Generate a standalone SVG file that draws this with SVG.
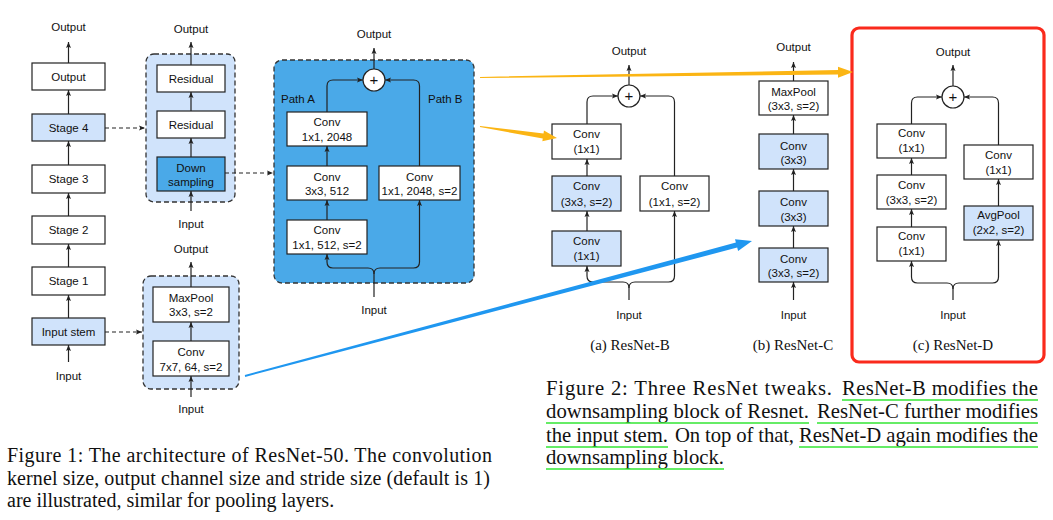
<svg xmlns="http://www.w3.org/2000/svg" width="1053" height="520" viewBox="0 0 1053 520">
<defs>
<marker id="ah" markerWidth="7" markerHeight="6" refX="6" refY="3" orient="auto" markerUnits="userSpaceOnUse"><path d="M0,0.5 L6,3 L0,5.5 L1.2,3 z" fill="#222"/></marker>
<style>
.box{stroke:#222;stroke-width:1.2;fill:#fff}
.lb{fill:#d0e3fb}
.db{fill:#4aa9e8}
.cont{stroke:#333;stroke-width:1.3;stroke-dasharray:5 3}
.t{font-family:"Liberation Sans",Arial,sans-serif;font-size:11.5px;text-anchor:middle;fill:#111}
.ts{font-family:"Liberation Sans",Arial,sans-serif;font-size:11.5px;fill:#111}
.ln{stroke:#222;stroke-width:1.2;fill:none;marker-end:url(#ah)}
.dash{stroke-dasharray:4 3}
.cap{font-family:"Liberation Serif","Times New Roman",serif;font-size:20px;fill:#111}
.cap2{font-family:"Liberation Serif","Times New Roman",serif;font-size:20.7px;fill:#111}
.sub{font-family:"Liberation Serif","Times New Roman",serif;font-size:15px;fill:#111;text-anchor:middle}
.ul{stroke:#33e633;stroke-width:1.6}
.plus{font-family:"Liberation Sans",Arial,sans-serif;font-size:15px;text-anchor:middle;fill:#111}
</style>
</defs>
<rect width="1053" height="520" fill="#fff"/>

<!-- Figure 1 main column -->
<g id="f1-labels">
<text class="t" x="68.5" y="31">Output</text>
<text class="t" x="68.5" y="380">Input</text>
</g>
<g id="f1-output"><rect class="box" x="32" y="63" width="73" height="27"/><text class="t" x="68.5" y="80.5">Output</text></g>
<g id="f1-stage4"><rect class="box lb" x="32" y="114" width="73" height="27"/><text class="t" x="68.5" y="131.5">Stage 4</text></g>
<g id="f1-stage3"><rect class="box" x="32" y="165" width="73" height="28"/><text class="t" x="68.5" y="183">Stage 3</text></g>
<g id="f1-stage2"><rect class="box" x="32" y="216" width="73" height="28"/><text class="t" x="68.5" y="234">Stage 2</text></g>
<g id="f1-stage1"><rect class="box" x="32" y="267" width="73" height="28"/><text class="t" x="68.5" y="285">Stage 1</text></g>
<g id="f1-stem"><rect class="box lb" x="32" y="318" width="73" height="27"/><text class="t" x="68.5" y="335.5">Input stem</text></g>

<!-- Stage 4 detail -->
<g id="stage4-block">
<rect class="cont lb" x="146" y="54" width="89" height="148" rx="8"/>
<text class="t" x="191" y="33">Output</text>
<text class="t" x="191" y="228">Input</text>
</g>
<g id="s4-res1"><rect class="box" x="157" y="65" width="68" height="27"/><text class="t" x="191" y="82.5">Residual</text></g>
<g id="s4-res2"><rect class="box" x="157" y="111" width="68" height="27"/><text class="t" x="191" y="128.5">Residual</text></g>
<g id="s4-down"><rect class="box db" x="157" y="157" width="68" height="34"/><text class="t" x="191" y="172">Down</text><text class="t" x="191" y="186">sampling</text></g>

<!-- Input stem detail -->
<g id="stem-block">
<rect class="cont lb" x="143" y="276" width="96" height="113" rx="8"/>
<text class="t" x="191" y="253">Output</text>
<text class="t" x="191" y="413">Input</text>
</g>
<g id="stem-maxpool"><rect class="box" x="153" y="287" width="76" height="35"/><text class="t" x="191" y="302">MaxPool</text><text class="t" x="191" y="316">3x3, s=2</text></g>
<g id="stem-conv"><rect class="box" x="153" y="341" width="76" height="35"/><text class="t" x="191" y="356">Conv</text><text class="t" x="191" y="371">7x7, 64, s=2</text></g>

<!-- Downsampling detail -->
<g id="ds-block">
<rect class="cont db" x="274" y="60" width="200" height="223" rx="8"/>
<text class="t" x="374" y="38">Output</text>
<text class="t" x="374" y="314">Input</text>
<text class="ts" x="281" y="103">Path A</text>
<text class="ts" x="428" y="103">Path B</text>
</g>
<g id="ds-plus"><circle cx="374" cy="80" r="11" fill="#fff" stroke="#222" stroke-width="1.2"/><text class="plus" x="374" y="85">+</text></g>
<g id="ds-conv3"><rect class="box" x="287" y="112" width="80" height="34"/><text class="t" x="327" y="126">Conv</text><text class="t" x="327" y="141">1x1, 2048</text></g>
<g id="ds-conv2"><rect class="box" x="287" y="166" width="80" height="34"/><text class="t" x="327" y="181">Conv</text><text class="t" x="327" y="195">3x3, 512</text></g>
<g id="ds-conv1"><rect class="box" x="287" y="220" width="80" height="34"/><text class="t" x="327" y="234">Conv</text><text class="t" x="327" y="249">1x1, 512, s=2</text></g>
<g id="ds-convb"><rect class="box" x="379" y="166" width="81" height="34"/><text class="t" x="419.5" y="181">Conv</text><text class="t" x="419.5" y="195">1x1, 2048, s=2</text></g>

<!-- ResNet-B -->
<g id="rb-labels">
<text class="t" x="629" y="55">Output</text>
<text class="t" x="629" y="319">Input</text>
<text class="sub" x="630" y="350">(a) ResNet-B</text>
</g>
<g id="rb-plus"><circle cx="629" cy="96" r="11" fill="#fff" stroke="#222" stroke-width="1.2"/><text class="plus" x="629" y="101">+</text></g>
<g id="rb-conv3"><rect class="box" x="552" y="124" width="69" height="35"/><text class="t" x="586.5" y="138">Conv</text><text class="t" x="586.5" y="153">(1x1)</text></g>
<g id="rb-conv2"><rect class="box lb" x="552" y="176" width="69" height="35"/><text class="t" x="586.5" y="190">Conv</text><text class="t" x="586.5" y="206">(3x3, s=2)</text></g>
<g id="rb-conv1"><rect class="box lb" x="552" y="231" width="69" height="35"/><text class="t" x="586.5" y="245">Conv</text><text class="t" x="586.5" y="260">(1x1)</text></g>
<g id="rb-convb"><rect class="box" x="640" y="176" width="69" height="35"/><text class="t" x="674.5" y="190">Conv</text><text class="t" x="674.5" y="206">(1x1, s=2)</text></g>

<!-- ResNet-C -->
<g id="rc-labels">
<text class="t" x="793.5" y="51">Output</text>
<text class="t" x="793.5" y="319">Input</text>
<text class="sub" x="793" y="350">(b) ResNet-C</text>
</g>
<g id="rc-maxpool"><rect class="box" x="759" y="81" width="69" height="34"/><text class="t" x="793.5" y="96">MaxPool</text><text class="t" x="793.5" y="110">(3x3, s=2)</text></g>
<g id="rc-conv3"><rect class="box lb" x="759" y="134" width="69" height="35"/><text class="t" x="793.5" y="150">Conv</text><text class="t" x="793.5" y="164">(3x3)</text></g>
<g id="rc-conv2"><rect class="box lb" x="759" y="191" width="69" height="35"/><text class="t" x="793.5" y="206">Conv</text><text class="t" x="793.5" y="221">(3x3)</text></g>
<g id="rc-conv1"><rect class="box lb" x="759" y="248" width="69" height="34"/><text class="t" x="793.5" y="263">Conv</text><text class="t" x="793.5" y="277">(3x3, s=2)</text></g>

<!-- ResNet-D -->
<g id="rd-frame"><rect x="852" y="28" width="192" height="334" rx="7" fill="none" stroke="#fa2a1c" stroke-width="3.2"/></g>
<g id="rd-labels">
<text class="t" x="953" y="56">Output</text>
<text class="t" x="953" y="319">Input</text>
<text class="sub" x="953" y="350">(c) ResNet-D</text>
</g>
<g id="rd-plus"><circle cx="953" cy="97" r="11" fill="#fff" stroke="#222" stroke-width="1.2"/><text class="plus" x="953" y="102">+</text></g>
<g id="rd-conv3"><rect class="box" x="877" y="124" width="69" height="34"/><text class="t" x="911.5" y="137">Conv</text><text class="t" x="911.5" y="152">(1x1)</text></g>
<g id="rd-conv2"><rect class="box" x="877" y="175" width="69" height="34"/><text class="t" x="911.5" y="189">Conv</text><text class="t" x="911.5" y="204">(3x3, s=2)</text></g>
<g id="rd-conv1"><rect class="box" x="877" y="227" width="69" height="34"/><text class="t" x="911.5" y="240">Conv</text><text class="t" x="911.5" y="255">(1x1)</text></g>
<g id="rd-convb"><rect class="box" x="964" y="145" width="69" height="34"/><text class="t" x="998.5" y="159">Conv</text><text class="t" x="998.5" y="174">(1x1)</text></g>
<g id="rd-avgpool"><rect class="box lb" x="964" y="206" width="69" height="34"/><text class="t" x="998.5" y="219">AvgPool</text><text class="t" x="998.5" y="234">(2x2, s=2)</text></g>

<!-- Connectors -->
<g id="connectors">
<path class="ln" d="M68.5,362 V345"/>
<path class="ln" d="M68.5,318 V295"/>
<path class="ln" d="M68.5,267 V244"/>
<path class="ln" d="M68.5,216 V193"/>
<path class="ln" d="M68.5,165 V141"/>
<path class="ln" d="M68.5,114 V90"/>
<path class="ln" d="M68.5,63 V42"/>
<path class="ln dash" d="M105,128 H145"/>
<path class="ln dash" d="M105,332 H142"/>
<path class="ln dash" d="M225,173 H273"/>
<path class="ln" d="M191,211 V191"/>
<path class="ln" d="M191,157 V138"/>
<path class="ln" d="M191,111 V92"/>
<path class="ln" d="M191,65 V42"/>
<path class="ln" d="M191,397 V376"/>
<path class="ln" d="M191,341 V322"/>
<path class="ln" d="M191,287 V262"/>

<path class="ln" d="M374,69 V48"/>
<path class="ln" d="M327,112 V86 Q327,80 333,80 H363"/>
<path class="ln" d="M419.5,166 V86 Q419.5,80 413.5,80 H385"/>
<path class="ln" d="M327,220 V200"/>
<path class="ln" d="M327,166 V146"/>
<path class="ln" d="M374,297 V274 Q374,268 368,268 H333 Q327,268 327,262 V254"/>
<path class="ln" d="M374,274 Q374,268 380,268 H413.5 Q419.5,268 419.5,262 V200"/>

<path class="ln" d="M629,85 V65"/>
<path class="ln" d="M587,124 V102 Q587,96 593,96 H618"/>
<path class="ln" d="M674.5,176 V102 Q674.5,96 668.5,96 H640"/>
<path class="ln" d="M587,231 V211"/>
<path class="ln" d="M587,176 V159"/>
<path class="ln" d="M629,300 V288 Q629,282 623,282 H593 Q587,282 587,276 V266"/>
<path class="ln" d="M629,288 Q629,282 635,282 H668.5 Q674.5,282 674.5,276 V211"/>

<path class="ln" d="M793.5,300 V282"/>
<path class="ln" d="M793.5,248 V226"/>
<path class="ln" d="M793.5,191 V169"/>
<path class="ln" d="M793.5,134 V115"/>
<path class="ln" d="M793.5,81 V62"/>

<path class="ln" d="M953,86 V65"/>
<path class="ln" d="M911.5,124 V103 Q911.5,97 917.5,97 H942"/>
<path class="ln" d="M998.5,145 V103 Q998.5,97 992.5,97 H964"/>
<path class="ln" d="M911.5,227 V209"/>
<path class="ln" d="M911.5,175 V158"/>
<path class="ln" d="M998.5,206 V179"/>
<path class="ln" d="M953,300 V289 Q953,283 947,283 H917.5 Q911.5,283 911.5,277 V261"/>
<path class="ln" d="M953,289 Q953,283 959,283 H992.5 Q998.5,283 998.5,277 V240"/>
</g>

<!-- Highlight arrows -->
<g id="highlight-arrows">
<polygon fill="#fbb514" points="480,76.9 838,70 838,66.7 853,72 838,77.7 838,74.4 480,78.1"/>
<polygon fill="#fbb514" points="480.09,125.91 543.52,133.46 543.96,130.49 557,138 542.34,141.37 542.78,138.40 479.91,127.09"/>
<polygon fill="#1f97f0" points="244.8,375.1 735.9,242.6 735.0,239.3 752,241 738.1,250.9 737.2,247.6 245.2,376.9"/>
</g>

<!-- Captions -->
<g id="caption1">
<text class="cap" x="7" y="462" textLength="485" lengthAdjust="spacing">Figure 1: The architecture of ResNet-50.  The convolution</text>
<text class="cap" x="7" y="485" textLength="483" lengthAdjust="spacing">kernel size, output channel size and stride size (default is 1)</text>
<text class="cap" x="7" y="507">are illustrated, similar for pooling layers.</text>
</g>
<g id="caption2">
<text class="cap2" x="546" y="395" textLength="286" lengthAdjust="spacing">Figure 2: Three ResNet tweaks.</text>
<text class="cap2" x="842" y="395" textLength="196" lengthAdjust="spacing">ResNet-B modifies the</text>
<text class="cap2" x="546" y="418" textLength="263" lengthAdjust="spacing">downsampling block of Resnet.</text>
<text class="cap2" x="817" y="418" textLength="221" lengthAdjust="spacing">ResNet-C further modifies</text>
<text class="cap2" x="546" y="442" textLength="122" lengthAdjust="spacing">the input stem.</text>
<text class="cap2" x="675" y="442" textLength="119" lengthAdjust="spacing">On top of that,</text>
<text class="cap2" x="799" y="442" textLength="239" lengthAdjust="spacing">ResNet-D again modifies the</text>
<text class="cap2" x="546" y="464" textLength="178" lengthAdjust="spacing">downsampling block.</text>
<line class="ul" x1="842" y1="400" x2="1038" y2="400"/>
<line class="ul" x1="546" y1="423" x2="809" y2="423"/>
<line class="ul" x1="817" y1="423" x2="1038" y2="423"/>
<line class="ul" x1="546" y1="447" x2="668" y2="447"/>
<line class="ul" x1="799" y1="447" x2="1038" y2="447"/>
<line class="ul" x1="546" y1="469" x2="724" y2="469"/>
</g>
</svg>
